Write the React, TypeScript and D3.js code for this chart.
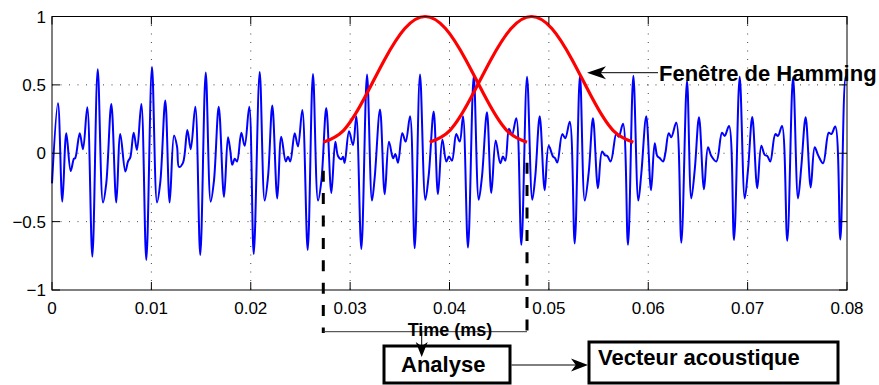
import React from "react";
import * as d3 from "d3";

// ---- data ----
const timeS = [
  0, 0.0006, 0.00104, 0.00144, 0.00188, 0.00221, 0.00234, 0.00279, 0.00312, 0.00355,
  0.00406, 0.0046, 0.00513, 0.00546, 0.00597, 0.00647, 0.00687, 0.00738, 0.00765, 0.00788,
  0.00822, 0.00855, 0.00899, 0.00949, 0.01006, 0.01057, 0.0109, 0.0114, 0.01184, 0.01228,
  0.01258, 0.01278, 0.01318, 0.01362, 0.01396, 0.01442, 0.01492, 0.01547, 0.01597, 0.0163,
  0.01678, 0.01731, 0.01771, 0.01794, 0.01814, 0.01839, 0.01862, 0.01905, 0.01939, 0.01985,
  0.0203, 0.0209, 0.0214, 0.02174, 0.02217, 0.02267, 0.02307, 0.02352, 0.02375, 0.02398,
  0.02442, 0.02475, 0.02519, 0.02573, 0.02626, 0.02677, 0.02711, 0.0276, 0.02811, 0.02851,
  0.02878, 0.02911, 0.02928, 0.02945, 0.02989, 0.03029, 0.03062, 0.03113, 0.0317, 0.0322,
  0.03247, 0.03301, 0.03348, 0.03391, 0.03432, 0.03455, 0.03482, 0.03525, 0.03559, 0.03603,
  0.0365, 0.03703, 0.03757, 0.03791, 0.03841, 0.03884, 0.03928, 0.03968, 0.03995, 0.04025,
  0.04068, 0.04103, 0.04136, 0.04186, 0.04244, 0.04294, 0.04327, 0.04377, 0.04421, 0.04465,
  0.04511, 0.04538, 0.04562, 0.04599, 0.04629, 0.04672, 0.04723, 0.0478, 0.04833, 0.04863,
  0.04908, 0.04958, 0.04998, 0.05042, 0.05062, 0.05085, 0.05135, 0.05165, 0.0521, 0.0526,
  0.05313, 0.05361, 0.05401, 0.05444, 0.05494, 0.05535, 0.05565, 0.05588, 0.05622, 0.05679,
  0.05703, 0.05746, 0.05796, 0.0585, 0.059, 0.0593, 0.0598, 0.06028, 0.06065, 0.06091,
  0.06115, 0.06149, 0.06172, 0.06206, 0.06232, 0.06282, 0.06333, 0.0639, 0.06433, 0.06468,
  0.06511, 0.06561, 0.06601, 0.06635, 0.06685, 0.06742, 0.06769, 0.06813, 0.06863, 0.0692,
  0.06971, 0.07004, 0.07047, 0.07097, 0.07138, 0.07172, 0.07198, 0.07228, 0.07279, 0.07306,
  0.07346, 0.07399, 0.07457, 0.07507, 0.0754, 0.07584, 0.07635, 0.07675, 0.07708, 0.07759,
  0.07816, 0.07842, 0.07882, 0.07933, 0.07987, 0.08,
];
const amplitude = [
  -0.22, 0.366, -0.354, 0.146, -0.13, -0.04, -0.035, 0.146, 0.03, 0.337,
  -0.756, 0.615, -0.36, -0.22, 0.36, -0.36, 0.14, -0.134, -0.06, -0.03,
  0.15, 0.024, 0.36, -0.78, 0.63, -0.36, -0.21, 0.385, -0.36, 0.13,
  0.05, -0.1, -0.07, 0.17, 0.03, 0.34, -0.744, 0.59, -0.354, -0.2,
  0.34, -0.32, 0.117, 0.02, -0.085, -0.04, -0.06, 0.15, 0.054, 0.34,
  -0.737, 0.595, -0.346, -0.17, 0.35, -0.33, 0.12, -0.06, -0.025, -0.06,
  0.146, 0.05, 0.317, -0.707, 0.58, -0.346, -0.2, 0.33, -0.29, 0.085,
  -0.02, -0.044, -0.025, -0.07, 0.16, 0.06, 0.27, -0.7, 0.576, -0.346,
  -0.18, 0.32, -0.3, 0.085, -0.037, -0.005, -0.07, 0.146, 0.085, 0.27,
  -0.695, 0.576, -0.34, -0.16, 0.305, -0.3, 0.1, -0.06, -0.024, -0.054,
  0.14, 0.085, 0.27, -0.69, 0.566, -0.34, -0.17, 0.3, -0.29, 0.093,
  -0.073, -0.024, -0.054, 0.18, 0.134, 0.256, -0.67, 0.56, -0.34, -0.17,
  0.27, -0.27, 0.054, -0.024, -0.035, -0.068, 0.14, 0.11, 0.23, -0.66,
  0.573, -0.346, -0.14, 0.256, -0.256, 0.012, -0.015, -0.02, -0.06, 0.146,
  0.12, 0.215, -0.67, 0.566, -0.346, -0.15, 0.27, -0.27, 0.073, -0.02,
  -0.035, -0.06, 0.0, 0.146, 0.117, 0.224, -0.654, 0.53, -0.33, -0.12,
  0.263, -0.263, 0.044, -0.02, -0.06, 0.15, 0.127, 0.2, -0.634, 0.56,
  -0.33, -0.12, 0.265, -0.256, 0.054, -0.012, -0.02, -0.06, 0.14, 0.127,
  0.2, -0.64, 0.556, -0.33, -0.1, 0.263, -0.25, 0.044, -0.012, -0.073,
  0.15, 0.14, 0.195, -0.63, 0.56, 0.54,
];

const xTicks = [0, 0.01, 0.02, 0.03, 0.04, 0.05, 0.06, 0.07, 0.08];
const xTickLabels = ["0", "0.01", "0.02", "0.03", "0.04", "0.05", "0.06", "0.07", "0.08"];
const yTicks = [-1, -0.5, 0, 0.5, 1];
const yTickLabels = ["\u22121", "\u22120.5", "0", "0.5", "1"];

const windowStarts = [0.0273, 0.038];
const windowLength = 0.0205;
const windowFractions = [0, 0.1, 0.2, 0.3, 0.4, 0.5, 0.6, 0.7, 0.8, 0.9, 1];
const hammingValues = [0.08, 0.1679, 0.3979, 0.6821, 0.9121, 1.0, 0.9121, 0.6821, 0.3979, 0.1679, 0.08];

const xLabel = "Time (ms)";
const windowLabel = "Fen\u00eatre de Hamming";
const analyseLabel = "Analyse";
const vectorLabel = "Vecteur acoustique";

const FONT = "'Liberation Sans', Arial, Helvetica, sans-serif";

function arrowHead(tipX: number, tipY: number, angleDeg: number, L = 15, W = 6.5) {
  const a = (angleDeg * Math.PI) / 180;
  const c = Math.cos(a), s = Math.sin(a);
  const pt = (px: number, py: number) => [tipX + px * c - py * s, tipY + px * s + py * c];
  const p1 = pt(-L, -W), p2 = pt(-L * 0.72, 0), p3 = pt(-L, W);
  return `M${tipX},${tipY}L${p1[0]},${p1[1]}L${p2[0]},${p2[1]}L${p3[0]},${p3[1]}Z`;
}

export default function App() {
  const W = 879, H = 385;
  const L = 52, R = 847, T = 16.5, B = 290;
  const x = d3.scaleLinear().domain([0, 0.08]).range([L, R]);
  const y = d3.scaleLinear().domain([-1, 1]).range([B, T]);

  const line = d3
    .line<[number, number]>()
    .x((d) => x(d[0]))
    .y((d) => y(d[1]))
    .curve(d3.curveCatmullRom.alpha(0.5));

  const signal: [number, number][] = timeS.map((t, i) => [t, amplitude[i]]);
  const windows = windowStarts.map((s) =>
    windowFractions.map((f, i) => [s + f * windowLength, hammingValues[i]] as [number, number])
  );

  const tickLen = 8;
  const d1x = x(windowStarts[0]);
  const d2x = x(windowStarts[0] + windowLength);

  return (
    <div style={{ position: "absolute", left: 0, top: 0 }}>
      <svg width={W} height={H} style={{ display: "block", background: "#fff" }} fontFamily={FONT}>
        <rect x={0} y={0} width={W} height={H} fill="#fff" />
        {/* grid */}
        {xTicks.slice(1, -1).map((t) => (
          <line key={"gx" + t} x1={x(t)} x2={x(t)} y1={T} y2={B} stroke="#444" strokeWidth={1} strokeDasharray="1,7.5" />
        ))}
        {yTicks.slice(1, -1).map((v) => (
          <line key={"gy" + v} x1={L} x2={R} y1={y(v)} y2={y(v)} stroke="#444" strokeWidth={1} strokeDasharray="1,7.5" />
        ))}
        {/* signal */}
        <path d={line(signal) || ""} fill="none" stroke="#0000ff" strokeWidth={2} strokeLinejoin="round" />
        {/* hamming windows */}
        {windows.map((w, i) => (
          <path key={"w" + i} d={d3.line<[number, number]>().x((d) => x(d[0])).y((d) => y(d[1])).curve(d3.curveNatural)(w) || ""} fill="none" stroke="#ff0000" strokeWidth={3.2} />
        ))}
        {/* axes box & ticks */}
        <rect x={L} y={T} width={R - L} height={B - T} fill="none" stroke="#000" strokeWidth={1} />
        {xTicks.map((t) => (
          <g key={"tx" + t}>
            <line x1={x(t)} x2={x(t)} y1={B} y2={B - tickLen} stroke="#000" />
            <line x1={x(t)} x2={x(t)} y1={T} y2={T + tickLen} stroke="#000" />
          </g>
        ))}
        {yTicks.map((v) => (
          <g key={"ty" + v}>
            <line x1={L} x2={L + tickLen} y1={y(v)} y2={y(v)} stroke="#000" />
            <line x1={R} x2={R - tickLen} y1={y(v)} y2={y(v)} stroke="#000" />
          </g>
        ))}
        {xTicks.map((t, i) => (
          <text key={"lx" + t} x={x(t)} y={314} textAnchor="middle" fontSize={17} fill="#000">
            {xTickLabels[i]}
          </text>
        ))}
        {yTicks.map((v, i) => (
          <text key={"ly" + v} x={46} y={y(v) + 6} textAnchor="end" fontSize={17} fill="#000">
            {yTickLabels[i]}
          </text>
        ))}
        {/* dashed frame markers */}
        <line x1={d1x} x2={d1x} y1={170.7} y2={333} stroke="#000" strokeWidth={3} strokeDasharray="11,11.4" />
        <line x1={d2x} x2={d2x} y1={162.7} y2={331} stroke="#000" strokeWidth={3} strokeDasharray="11,11.4" />
        <line x1={d1x} x2={d2x} y1={331.7} y2={331.7} stroke="#333" strokeWidth={1} />
        <text x={450} y={336} textAnchor="middle" fontSize={18} fontWeight="bold" fill="#000">
          {xLabel}
        </text>
        {/* arrow down to Analyse */}
        <line x1={421.7} x2={421.7} y1={331.7} y2={350} stroke="#000" strokeWidth={1} />
        <path d={arrowHead(421.7, 357, 90, 15, 6)} fill="#000" />
        {/* Analyse box */}
        <rect x={384} y={346} width={126} height={37} fill="none" stroke="#000" strokeWidth={3} />
        <text x={401} y={372} fontSize={22} fontWeight="bold" fill="#000">
          {analyseLabel}
        </text>
        {/* arrow to Vecteur */}
        <line x1={511.5} x2={580} y1={365} y2={365} stroke="#000" strokeWidth={1} />
        <path d={arrowHead(588, 365, 0, 17, 6.5)} fill="#000" />
        <rect x={589} y={342} width={249} height={41} fill="none" stroke="#000" strokeWidth={3} />
        <text x={598} y={365} fontSize={22} fontWeight="bold" fill="#000">
          {vectorLabel}
        </text>
        {/* Hamming annotation */}
        <line x1={596} x2={658} y1={72.7} y2={72.7} stroke="#000" strokeWidth={1} />
        <path d={arrowHead(587, 72.7, 180, 19, 6.5)} fill="#000" />
        <text x={659} y={81} fontSize={22} fontWeight="bold" fill="#000">
          {windowLabel}
        </text>
      </svg>
    </div>
  );
}
